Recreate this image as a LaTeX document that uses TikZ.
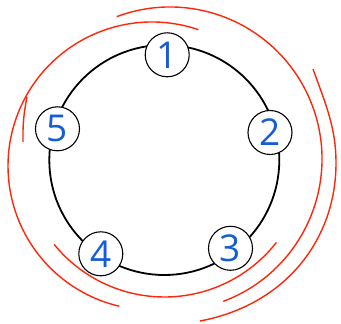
\documentclass[tikz,border=0pt]{standalone}
\usepackage{fontspec}
\setmainfont{Open Sans}
\definecolor{arcred}{RGB}{255,38,10}
\definecolor{numblue}{RGB}{22,92,214}
\tikzset{
  ring/.style={draw=black, line width=1.8pt},
  redarc/.style={draw=arcred, line width=1.4pt},
  numnode/.style={circle, draw=black, line width=1.1pt, fill=white, minimum size=44pt, inner sep=0pt,
    text=numblue, font=\fontsize{37}{37}\selectfont}
}
\begin{document}
\begin{tikzpicture}[x=1pt,y=1pt]
\useasboundingbox (0,0) rectangle (341,324);
% main ring
\coordinate (c) at (164.3,164);
\draw[ring] (c) circle[radius=115];
% red arcs
\draw[redarc] ([shift={(110.5:152)}]170,165) arc[start angle=110.5, end angle=-69.5, radius=152];
\draw[redarc] ([shift={(71.2:144)}]152,158) arc[start angle=71.2, end angle=256.9, radius=144];
\draw[redarc] ([shift={(219:142)}]164.5,169) arc[start angle=219, end angle=322, radius=142];
\coordinate (b0) at (313,255);
\coordinate (b1) at (336,161);
\coordinate (b2) at (200,3);
\draw[redarc] (b0) .. controls (326,219) and (336,196) .. (b1)
  .. controls (336,84) and (285,19) .. (b2);
\draw[redarc] (27,227) to[bend right=6] (23,182);
% nodes
\node[numnode] (n1) at (167.2,269.2) {1};
\node[numnode] (n2) at (270,191.5) {2};
\node[numnode] (n3) at (230.5,75.7) {3};
\node[numnode] (n4) at (100.8,70.2) {4};
\node[numnode] (n5) at (57.5,195.2) {5};
\end{tikzpicture}
\end{document}
